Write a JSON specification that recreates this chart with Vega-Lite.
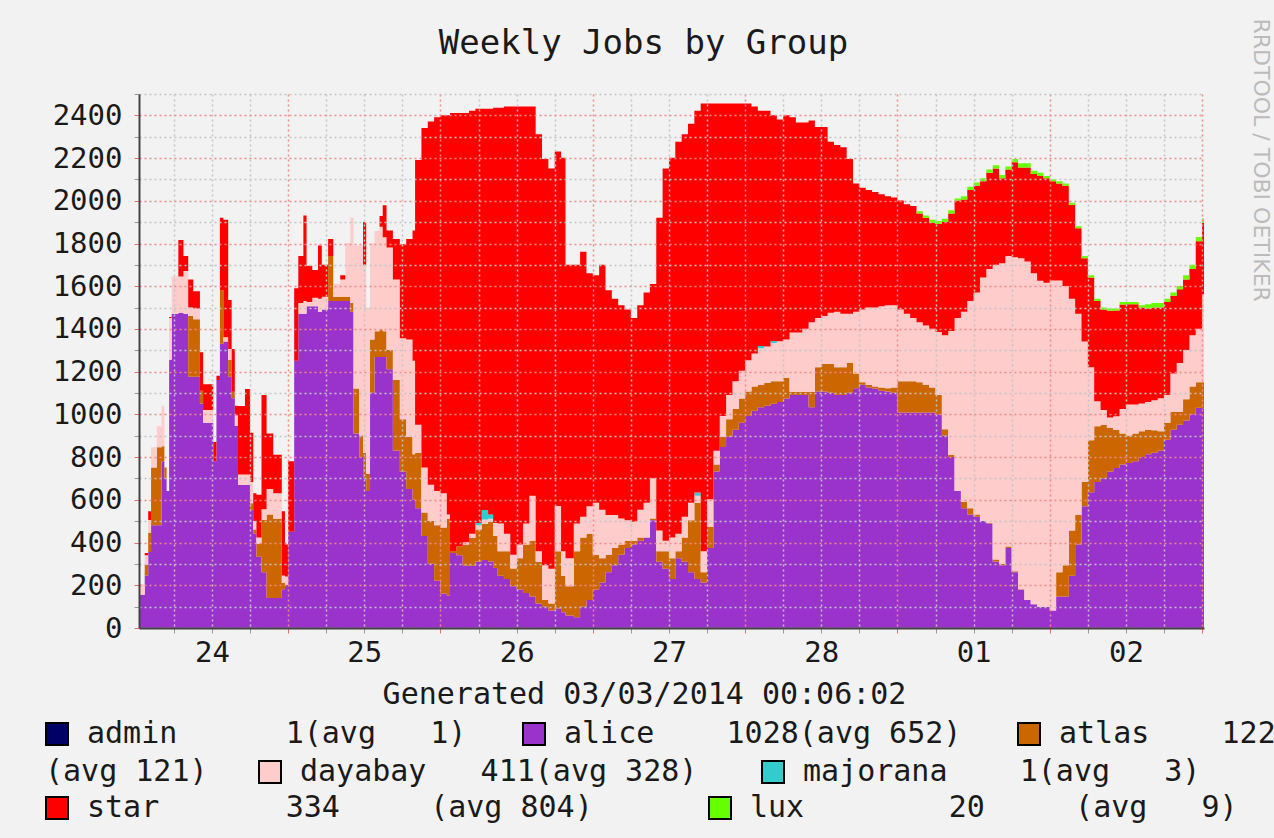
{
"$schema": "https://vega.github.io/schema/vega-lite/v6.json",
"width": 1065, "height": 534,
"autosize": {"type": "none"},
"padding": {"left": 139, "top": 94, "right": 70, "bottom": 210},
"background": "#f2f2f2",
"config": {"view": {"fill": "white", "stroke": null}, "font": "DejaVu Sans Mono"},
"title": {"text": "Weekly Jobs by Group", "font": "DejaVu Sans Mono", "fontSize": 34, "fontWeight": "normal", "color": "#1a1a1a", "anchor": "middle", "dx": -28, "offset": 0, "dy": 70, "baseline": "alphabetic"},
"layer": [
{
"data": {"values": [
{"hour":0.5,"admin":1,"alice":155,"atlas":0,"dayabay":50,"majorana":0,"star":0,"lux":0},
{"hour":1.4,"admin":1,"alice":245,"atlas":50,"dayabay":45,"majorana":0,"star":10,"lux":0},
{"hour":1.95,"admin":1,"alice":355,"atlas":90,"dayabay":60,"majorana":0,"star":40,"lux":0},
{"hour":2.4,"admin":1,"alice":480,"atlas":270,"dayabay":95,"majorana":0,"star":0,"lux":0},
{"hour":3.3,"admin":1,"alice":480,"atlas":365,"dayabay":98,"majorana":0,"star":0,"lux":0},
{"hour":4.05,"admin":1,"alice":780,"atlas":70,"dayabay":190,"majorana":0,"star":0,"lux":0},
{"hour":4.5,"admin":1,"alice":700,"atlas":50,"dayabay":0,"majorana":0,"star":0,"lux":0},
{"hour":4.85,"admin":1,"alice":640,"atlas":0,"dayabay":0,"majorana":0,"star":0,"lux":0},
{"hour":5.25,"admin":1,"alice":1255,"atlas":0,"dayabay":195,"majorana":0,"star":5,"lux":0},
{"hour":5.65,"admin":1,"alice":1470,"atlas":0,"dayabay":175,"majorana":0,"star":0,"lux":0},
{"hour":6.7,"admin":1,"alice":1475,"atlas":0,"dayabay":170,"majorana":0,"star":170,"lux":0},
{"hour":7.5,"admin":1,"alice":1470,"atlas":0,"dayabay":200,"majorana":0,"star":70,"lux":0},
{"hour":8.25,"admin":1,"alice":1175,"atlas":285,"dayabay":40,"majorana":0,"star":130,"lux":0},
{"hour":9.05,"admin":1,"alice":1175,"atlas":270,"dayabay":50,"majorana":0,"star":80,"lux":0},
{"hour":10.1,"admin":1,"alice":1050,"atlas":60,"dayabay":0,"majorana":0,"star":180,"lux":0},
{"hour":10.6,"admin":1,"alice":960,"atlas":0,"dayabay":60,"majorana":0,"star":120,"lux":0},
{"hour":12.2,"admin":1,"alice":780,"atlas":0,"dayabay":0,"majorana":0,"star":90,"lux":0},
{"hour":12.7,"admin":1,"alice":1160,"atlas":0,"dayabay":0,"majorana":0,"star":20,"lux":0},
{"hour":13.25,"admin":1,"alice":1330,"atlas":250,"dayabay":0,"majorana":0,"star":340,"lux":0},
{"hour":13.8,"admin":1,"alice":1340,"atlas":0,"dayabay":20,"majorana":0,"star":550,"lux":0},
{"hour":14.55,"admin":1,"alice":1175,"atlas":80,"dayabay":50,"majorana":0,"star":230,"lux":0},
{"hour":15.1,"admin":1,"alice":1075,"atlas":30,"dayabay":0,"majorana":0,"star":200,"lux":0},
{"hour":15.6,"admin":1,"alice":945,"atlas":0,"dayabay":50,"majorana":0,"star":45,"lux":0},
{"hour":16.1,"admin":1,"alice":668,"atlas":0,"dayabay":50,"majorana":0,"star":320,"lux":0},
{"hour":17.2,"admin":1,"alice":668,"atlas":0,"dayabay":50,"majorana":0,"star":400,"lux":0},
{"hour":18.0,"admin":1,"alice":553,"atlas":30,"dayabay":100,"majorana":0,"star":230,"lux":0},
{"hour":18.5,"admin":1,"alice":440,"atlas":20,"dayabay":40,"majorana":0,"star":130,"lux":0},
{"hour":19.0,"admin":1,"alice":333,"atlas":60,"dayabay":30,"majorana":0,"star":200,"lux":0},
{"hour":19.8,"admin":1,"alice":260,"atlas":245,"dayabay":50,"majorana":0,"star":535,"lux":0},
{"hour":20.6,"admin":1,"alice":140,"atlas":390,"dayabay":120,"majorana":0,"star":260,"lux":0},
{"hour":21.65,"admin":1,"alice":140,"atlas":370,"dayabay":120,"majorana":0,"star":180,"lux":0},
{"hour":23.0,"admin":1,"alice":180,"atlas":30,"dayabay":35,"majorana":0,"star":300,"lux":0},
{"hour":23.5,"admin":1,"alice":200,"atlas":0,"dayabay":40,"majorana":0,"star":150,"lux":0},
{"hour":24.0,"admin":1,"alice":450,"atlas":0,"dayabay":0,"majorana":0,"star":330,"lux":0},
{"hour":24.95,"admin":1,"alice":1250,"atlas":0,"dayabay":0,"majorana":0,"star":340,"lux":0},
{"hour":25.6,"admin":1,"alice":1470,"atlas":0,"dayabay":50,"majorana":0,"star":220,"lux":0},
{"hour":26.4,"admin":1,"alice":1470,"atlas":0,"dayabay":60,"majorana":0,"star":400,"lux":0},
{"hour":26.9,"admin":1,"alice":1505,"atlas":0,"dayabay":20,"majorana":0,"star":170,"lux":0},
{"hour":27.8,"admin":1,"alice":1505,"atlas":0,"dayabay":40,"majorana":0,"star":130,"lux":0},
{"hour":28.7,"admin":1,"alice":1480,"atlas":0,"dayabay":60,"majorana":0,"star":250,"lux":0},
{"hour":29.3,"admin":1,"alice":1490,"atlas":0,"dayabay":60,"majorana":0,"star":150,"lux":0},
{"hour":30.3,"admin":1,"alice":1530,"atlas":210,"dayabay":0,"majorana":0,"star":80,"lux":0},
{"hour":31.1,"admin":1,"alice":1530,"atlas":20,"dayabay":60,"majorana":0,"star":0,"lux":0},
{"hour":32.2,"admin":1,"alice":1530,"atlas":20,"dayabay":80,"majorana":0,"star":20,"lux":0},
{"hour":33.0,"admin":1,"alice":1530,"atlas":20,"dayabay":250,"majorana":0,"star":0,"lux":0},
{"hour":33.8,"admin":1,"alice":1480,"atlas":40,"dayabay":400,"majorana":0,"star":0,"lux":0},
{"hour":34.3,"admin":1,"alice":910,"atlas":210,"dayabay":670,"majorana":0,"star":0,"lux":0},
{"hour":35.2,"admin":1,"alice":800,"atlas":100,"dayabay":890,"majorana":0,"star":0,"lux":0},
{"hour":35.8,"admin":1,"alice":700,"atlas":120,"dayabay":880,"majorana":0,"star":200,"lux":0},
{"hour":36.3,"admin":1,"alice":640,"atlas":80,"dayabay":780,"majorana":0,"star":0,"lux":0},
{"hour":36.9,"admin":1,"alice":1100,"atlas":250,"dayabay":450,"majorana":0,"star":0,"lux":0},
{"hour":37.6,"admin":1,"alice":1268,"atlas":120,"dayabay":470,"majorana":0,"star":0,"lux":0},
{"hour":38.4,"admin":1,"alice":1268,"atlas":130,"dayabay":480,"majorana":0,"star":50,"lux":0},
{"hour":38.9,"admin":1,"alice":1268,"atlas":120,"dayabay":440,"majorana":0,"star":150,"lux":0},
{"hour":39.5,"admin":1,"alice":1210,"atlas":90,"dayabay":480,"majorana":0,"star":80,"lux":0},
{"hour":40.5,"admin":1,"alice":830,"atlas":330,"dayabay":470,"majorana":0,"star":190,"lux":0},
{"hour":41.6,"admin":1,"alice":732,"atlas":244,"dayabay":380,"majorana":0,"star":440,"lux":0},
{"hour":42.6,"admin":1,"alice":650,"atlas":244,"dayabay":456,"majorana":0,"star":470,"lux":0},
{"hour":43.6,"admin":1,"alice":600,"atlas":213,"dayabay":437,"majorana":0,"star":610,"lux":0},
{"hour":44,"admin":1,"alice":560,"atlas":260,"dayabay":130,"majorana":0,"star":1240,"lux":0},
{"hour":45,"admin":1,"alice":430,"atlas":110,"dayabay":210,"majorana":0,"star":1590,"lux":0},
{"hour":46,"admin":1,"alice":300,"atlas":200,"dayabay":170,"majorana":0,"star":1700,"lux":0},
{"hour":47,"admin":1,"alice":220,"atlas":260,"dayabay":160,"majorana":0,"star":1750,"lux":0},
{"hour":48,"admin":1,"alice":160,"atlas":310,"dayabay":160,"majorana":0,"star":1770,"lux":0},
{"hour":49,"admin":1,"alice":150,"atlas":360,"dayabay":20,"majorana":0,"star":1870,"lux":0},
{"hour":49.5,"admin":1,"alice":350,"atlas":10,"dayabay":0,"majorana":0,"star":2050,"lux":0},
{"hour":50.5,"admin":1,"alice":340,"atlas":40,"dayabay":0,"majorana":0,"star":2030,"lux":0},
{"hour":51.5,"admin":1,"alice":290,"atlas":100,"dayabay":10,"majorana":0,"star":2010,"lux":0},
{"hour":52.5,"admin":1,"alice":290,"atlas":130,"dayabay":20,"majorana":0,"star":1980,"lux":0},
{"hour":53.5,"admin":1,"alice":310,"atlas":150,"dayabay":20,"majorana":10,"star":1940,"lux":0},
{"hour":54.5,"admin":1,"alice":317,"atlas":170,"dayabay":20,"majorana":45,"star":1878,"lux":0},
{"hour":55.5,"admin":1,"alice":310,"atlas":185,"dayabay":15,"majorana":20,"star":1900,"lux":0},
{"hour":56.3,"admin":1,"alice":280,"atlas":150,"dayabay":60,"majorana":0,"star":1945,"lux":0},
{"hour":57,"admin":1,"alice":244,"atlas":114,"dayabay":130,"majorana":0,"star":1947,"lux":0},
{"hour":58,"admin":1,"alice":228,"atlas":130,"dayabay":82,"majorana":0,"star":2000,"lux":0},
{"hour":59,"admin":1,"alice":195,"atlas":82,"dayabay":65,"majorana":0,"star":2098,"lux":0},
{"hour":60,"admin":1,"alice":179,"atlas":146,"dayabay":65,"majorana":0,"star":2050,"lux":0},
{"hour":61,"admin":1,"alice":163,"atlas":227,"dayabay":98,"majorana":0,"star":1952,"lux":0},
{"hour":62,"admin":1,"alice":146,"atlas":261,"dayabay":211,"majorana":0,"star":1822,"lux":0},
{"hour":63,"admin":1,"alice":114,"atlas":195,"dayabay":49,"majorana":0,"star":1952,"lux":0},
{"hour":64,"admin":1,"alice":98,"atlas":32,"dayabay":163,"majorana":0,"star":1902,"lux":0},
{"hour":65,"admin":1,"alice":81,"atlas":33,"dayabay":162,"majorana":0,"star":1874,"lux":0},
{"hour":66,"admin":1,"alice":90,"atlas":268,"dayabay":212,"majorana":0,"star":1660,"lux":0},
{"hour":67,"admin":1,"alice":73,"atlas":171,"dayabay":114,"majorana":0,"star":1842,"lux":0},
{"hour":67.7,"admin":1,"alice":57,"atlas":138,"dayabay":130,"majorana":0,"star":1375,"lux":0},
{"hour":69,"admin":1,"alice":49,"atlas":309,"dayabay":130,"majorana":0,"star":1212,"lux":0},
{"hour":70,"admin":1,"alice":98,"atlas":325,"dayabay":97,"majorana":0,"star":1240,"lux":0},
{"hour":71,"admin":1,"alice":130,"atlas":310,"dayabay":129,"majorana":0,"star":1091,"lux":0},
{"hour":72,"admin":1,"alice":179,"atlas":163,"dayabay":243,"majorana":0,"star":1065,"lux":0},
{"hour":73,"admin":1,"alice":212,"atlas":113,"dayabay":228,"majorana":0,"star":1147,"lux":0},
{"hour":74,"admin":1,"alice":260,"atlas":82,"dayabay":186,"majorana":0,"star":1052,"lux":0},
{"hour":75,"admin":1,"alice":293,"atlas":81,"dayabay":154,"majorana":0,"star":1012,"lux":0},
{"hour":76,"admin":1,"alice":342,"atlas":48,"dayabay":122,"majorana":0,"star":998,"lux":0},
{"hour":77,"admin":1,"alice":374,"atlas":33,"dayabay":97,"majorana":0,"star":986,"lux":0},
{"hour":78,"admin":1,"alice":390,"atlas":17,"dayabay":89,"majorana":0,"star":954,"lux":0},
{"hour":79,"admin":1,"alice":407,"atlas":16,"dayabay":130,"majorana":0,"star":957,"lux":0},
{"hour":80,"admin":1,"alice":423,"atlas":0,"dayabay":162,"majorana":0,"star":985,"lux":0},
{"hour":81,"admin":1,"alice":504,"atlas":8,"dayabay":188,"majorana":0,"star":910,"lux":0},
{"hour":82,"admin":1,"alice":309,"atlas":49,"dayabay":97,"majorana":0,"star":1465,"lux":0},
{"hour":83,"admin":1,"alice":276,"atlas":82,"dayabay":49,"majorana":0,"star":1743,"lux":0},
{"hour":84,"admin":1,"alice":228,"atlas":97,"dayabay":98,"majorana":0,"star":1777,"lux":0},
{"hour":85,"admin":1,"alice":325,"atlas":33,"dayabay":82,"majorana":0,"star":1836,"lux":0},
{"hour":86,"admin":1,"alice":309,"atlas":114,"dayabay":97,"majorana":0,"star":1790,"lux":0},
{"hour":87,"admin":1,"alice":260,"atlas":244,"dayabay":81,"majorana":0,"star":1775,"lux":0},
{"hour":88,"admin":1,"alice":228,"atlas":357,"dayabay":33,"majorana":15,"star":1787,"lux":0},
{"hour":89,"admin":1,"alice":212,"atlas":48,"dayabay":98,"majorana":0,"star":2097,"lux":0},
{"hour":90,"admin":1,"alice":374,"atlas":98,"dayabay":130,"majorana":0,"star":1853,"lux":0},
{"hour":91,"admin":1,"alice":732,"atlas":32,"dayabay":65,"majorana":0,"star":1626,"lux":0},
{"hour":92,"admin":1,"alice":846,"atlas":48,"dayabay":98,"majorana":0,"star":1463,"lux":0},
{"hour":93,"admin":1,"alice":894,"atlas":82,"dayabay":114,"majorana":0,"star":1365,"lux":0},
{"hour":94,"admin":1,"alice":927,"atlas":97,"dayabay":130,"majorana":0,"star":1301,"lux":0},
{"hour":95,"admin":1,"alice":960,"atlas":113,"dayabay":130,"majorana":0,"star":1252,"lux":0},
{"hour":96,"admin":1,"alice":992,"atlas":114,"dayabay":146,"majorana":0,"star":1203,"lux":0},
{"hour":97,"admin":1,"alice":1016,"atlas":114,"dayabay":154,"majorana":0,"star":1156,"lux":0},
{"hour":98,"admin":1,"alice":1032,"atlas":106,"dayabay":171,"majorana":10,"star":1101,"lux":0},
{"hour":99,"admin":1,"alice":1040,"atlas":106,"dayabay":171,"majorana":0,"star":1103,"lux":0},
{"hour":100,"admin":1,"alice":1049,"atlas":105,"dayabay":179,"majorana":10,"star":1057,"lux":0},
{"hour":101,"admin":1,"alice":1057,"atlas":97,"dayabay":187,"majorana":0,"star":1039,"lux":0},
{"hour":102,"admin":1,"alice":1073,"atlas":97,"dayabay":180,"majorana":0,"star":1050,"lux":0},
{"hour":103,"admin":1,"alice":1090,"atlas":15,"dayabay":277,"majorana":0,"star":1008,"lux":0},
{"hour":104,"admin":1,"alice":1090,"atlas":15,"dayabay":277,"majorana":0,"star":983,"lux":0},
{"hour":105,"admin":1,"alice":1090,"atlas":15,"dayabay":295,"majorana":0,"star":965,"lux":0},
{"hour":106,"admin":1,"alice":1032,"atlas":73,"dayabay":325,"majorana":0,"star":945,"lux":0},
{"hour":107,"admin":1,"alice":1106,"atlas":114,"dayabay":230,"majorana":0,"star":895,"lux":0},
{"hour":108,"admin":1,"alice":1106,"atlas":130,"dayabay":224,"majorana":0,"star":885,"lux":0},
{"hour":109,"admin":1,"alice":1100,"atlas":136,"dayabay":239,"majorana":0,"star":801,"lux":0},
{"hour":110,"admin":1,"alice":1090,"atlas":130,"dayabay":260,"majorana":0,"star":780,"lux":0},
{"hour":111,"admin":1,"alice":1090,"atlas":130,"dayabay":250,"majorana":0,"star":780,"lux":0},
{"hour":112,"admin":1,"alice":1100,"atlas":140,"dayabay":230,"majorana":0,"star":725,"lux":0},
{"hour":113,"admin":1,"alice":1122,"atlas":68,"dayabay":290,"majorana":0,"star":600,"lux":0},
{"hour":114,"admin":1,"alice":1138,"atlas":12,"dayabay":340,"majorana":0,"star":570,"lux":0},
{"hour":115,"admin":1,"alice":1125,"atlas":13,"dayabay":362,"majorana":0,"star":550,"lux":0},
{"hour":116,"admin":1,"alice":1120,"atlas":10,"dayabay":370,"majorana":0,"star":540,"lux":0},
{"hour":117,"admin":1,"alice":1110,"atlas":15,"dayabay":380,"majorana":0,"star":525,"lux":0},
{"hour":118,"admin":1,"alice":1106,"atlas":16,"dayabay":388,"majorana":0,"star":510,"lux":0},
{"hour":119,"admin":1,"alice":1100,"atlas":25,"dayabay":385,"majorana":0,"star":505,"lux":0},
{"hour":120,"admin":1,"alice":1008,"atlas":146,"dayabay":336,"majorana":0,"star":510,"lux":0},
{"hour":121,"admin":1,"alice":1008,"atlas":146,"dayabay":316,"majorana":0,"star":513,"lux":0},
{"hour":122,"admin":1,"alice":1008,"atlas":146,"dayabay":296,"majorana":0,"star":525,"lux":0},
{"hour":123,"admin":1,"alice":1008,"atlas":142,"dayabay":280,"majorana":0,"star":510,"lux":10},
{"hour":124,"admin":1,"alice":1008,"atlas":130,"dayabay":277,"majorana":0,"star":505,"lux":10},
{"hour":125,"admin":1,"alice":1008,"atlas":117,"dayabay":275,"majorana":0,"star":495,"lux":15},
{"hour":126,"admin":1,"alice":1000,"atlas":90,"dayabay":295,"majorana":0,"star":505,"lux":15},
{"hour":127,"admin":1,"alice":900,"atlas":30,"dayabay":440,"majorana":0,"star":530,"lux":15},
{"hour":128,"admin":1,"alice":800,"atlas":10,"dayabay":580,"majorana":0,"star":550,"lux":15},
{"hour":129,"admin":1,"alice":640,"atlas":0,"dayabay":810,"majorana":0,"star":550,"lux":10},
{"hour":130,"admin":1,"alice":560,"atlas":30,"dayabay":890,"majorana":0,"star":525,"lux":15},
{"hour":131,"admin":1,"alice":530,"atlas":30,"dayabay":970,"majorana":0,"star":520,"lux":15},
{"hour":132,"admin":1,"alice":520,"atlas":10,"dayabay":1040,"majorana":0,"star":500,"lux":15},
{"hour":133,"admin":1,"alice":500,"atlas":0,"dayabay":1140,"majorana":0,"star":450,"lux":15},
{"hour":134,"admin":1,"alice":488,"atlas":2,"dayabay":1190,"majorana":0,"star":450,"lux":15},
{"hour":135,"admin":1,"alice":310,"atlas":10,"dayabay":1380,"majorana":0,"star":450,"lux":15},
{"hour":136,"admin":1,"alice":293,"atlas":7,"dayabay":1407,"majorana":0,"star":398,"lux":15},
{"hour":137,"admin":1,"alice":374,"atlas":6,"dayabay":1360,"majorana":0,"star":405,"lux":15},
{"hour":138,"admin":1,"alice":260,"atlas":5,"dayabay":1470,"majorana":0,"star":445,"lux":15},
{"hour":139,"admin":1,"alice":179,"atlas":1,"dayabay":1550,"majorana":0,"star":425,"lux":20},
{"hour":140,"admin":1,"alice":130,"atlas":0,"dayabay":1585,"majorana":0,"star":440,"lux":20},
{"hour":141,"admin":1,"alice":110,"atlas":0,"dayabay":1550,"majorana":0,"star":465,"lux":15},
{"hour":142,"admin":1,"alice":98,"atlas":0,"dayabay":1527,"majorana":0,"star":490,"lux":15},
{"hour":143,"admin":1,"alice":98,"atlas":0,"dayabay":1517,"majorana":0,"star":490,"lux":10},
{"hour":144,"admin":1,"alice":81,"atlas":0,"dayabay":1545,"majorana":0,"star":464,"lux":10},
{"hour":145,"admin":1,"alice":146,"atlas":114,"dayabay":1366,"majorana":0,"star":454,"lux":10},
{"hour":146,"admin":1,"alice":146,"atlas":147,"dayabay":1307,"majorana":0,"star":470,"lux":10},
{"hour":147,"admin":1,"alice":244,"atlas":211,"dayabay":1085,"majorana":0,"star":440,"lux":10},
{"hour":148,"admin":1,"alice":390,"atlas":138,"dayabay":942,"majorana":0,"star":400,"lux":10},
{"hour":149,"admin":1,"alice":569,"atlas":114,"dayabay":657,"majorana":0,"star":390,"lux":10},
{"hour":150,"admin":1,"alice":634,"atlas":244,"dayabay":342,"majorana":0,"star":420,"lux":10},
{"hour":151,"admin":1,"alice":683,"atlas":260,"dayabay":117,"majorana":0,"star":470,"lux":10},
{"hour":152,"admin":1,"alice":700,"atlas":251,"dayabay":69,"majorana":0,"star":470,"lux":10},
{"hour":153,"admin":1,"alice":732,"atlas":203,"dayabay":49,"majorana":0,"star":500,"lux":11},
{"hour":154,"admin":1,"alice":748,"atlas":179,"dayabay":63,"majorana":0,"star":495,"lux":10},
{"hour":155,"admin":1,"alice":764,"atlas":146,"dayabay":114,"majorana":0,"star":490,"lux":11},
{"hour":156,"admin":1,"alice":772,"atlas":128,"dayabay":145,"majorana":0,"star":470,"lux":10},
{"hour":157,"admin":1,"alice":780,"atlas":130,"dayabay":135,"majorana":0,"star":470,"lux":10},
{"hour":158,"admin":1,"alice":800,"atlas":120,"dayabay":130,"majorana":0,"star":450,"lux":10},
{"hour":159,"admin":1,"alice":813,"atlas":114,"dayabay":130,"majorana":0,"star":438,"lux":20},
{"hour":160,"admin":1,"alice":820,"atlas":105,"dayabay":140,"majorana":0,"star":435,"lux":20},
{"hour":161,"admin":1,"alice":829,"atlas":91,"dayabay":155,"majorana":0,"star":425,"lux":20},
{"hour":162,"admin":1,"alice":880,"atlas":80,"dayabay":130,"majorana":0,"star":435,"lux":15},
{"hour":163,"admin":1,"alice":927,"atlas":83,"dayabay":180,"majorana":0,"star":365,"lux":15},
{"hour":164,"admin":1,"alice":950,"atlas":60,"dayabay":230,"majorana":0,"star":345,"lux":15},
{"hour":165,"admin":1,"alice":970,"atlas":100,"dayabay":230,"majorana":0,"star":330,"lux":20},
{"hour":166,"admin":1,"alice":1000,"atlas":130,"dayabay":240,"majorana":0,"star":310,"lux":20},
{"hour":167,"admin":1,"alice":1030,"atlas":120,"dayabay":250,"majorana":0,"star":410,"lux":20},
{"hour":168,"admin":1,"alice":1028,"atlas":122,"dayabay":411,"majorana":1,"star":334,"lux":20},
{"hour":168.3,"admin":1,"alice":1028,"atlas":122,"dayabay":411,"majorana":1,"star":334,"lux":20}
]},
"transform": [
 {"fold": ["admin","alice","atlas","dayabay","majorana","star","lux"], "as": ["group","jobs"]},
 {"lookup": "group", "from": {"data": {"values": [
   {"group":"admin","rank":1},{"group":"alice","rank":2},{"group":"atlas","rank":3},{"group":"dayabay","rank":4},
   {"group":"majorana","rank":5},{"group":"star","rank":6},{"group":"lux","rank":7}]}, "key": "group", "fields": ["rank"]}}
],
"mark": {"type": "area", "interpolate": "step-after", "opacity": 1},
"encoding": {
"x": {"field": "hour", "type": "quantitative", "scale": {"domain": [0.5,168.3], "nice": false, "zero": false},
 "axis": {"values": [6,12,18,24,30,36,42,48,54,60,66,72,78,84,90,96,102,108,114,120,126,132,138,144,150,156,162,168],
  "labelExpr": "datum.value % 24 === 12 ? ['24','25','26','27','28','01','02'][floor(datum.value/24)] : ''",
  "grid": true,
  "gridColor": {"condition": {"test": "datum.value % 24 === 0", "value": "#f08a8a"}, "value": "#c4c4c4"},
  "gridDash": [2,3], "gridWidth": 1.5,
  "tickSize": 5, "tickColor": {"condition": {"test": "datum.value % 24 === 0", "value": "#e07070"}, "value": "#999999"},
  "domainColor": "#444444", "domainWidth": 2,
  "labelFont": "DejaVu Sans Mono", "labelFontSize": 29, "labelColor": "#1a1a1a", "labelPadding": 5, "labelFlush": false, "labelOverlap": false,
  "title": "Generated 03/03/2014 00:06:02", "titleFont": "DejaVu Sans Mono", "titleFontSize": 30, "titleFontWeight": "normal", "titleColor": "#1a1a1a", "titlePadding": 12, "titleX": 505,
  "zindex": 1}},
"y": {"field": "jobs", "type": "quantitative", "stack": "zero", "scale": {"domain": [0,2500], "nice": false},
 "axis": {"values": [0,100,200,300,400,500,600,700,800,900,1000,1100,1200,1300,1400,1500,1600,1700,1800,1900,2000,2100,2200,2300,2400,2500],
  "format": "d",
  "labelExpr": "datum.value % 200 === 0 ? datum.label : ''",
  "grid": true,
  "gridColor": {"condition": {"test": "datum.value % 200 === 0", "value": "#f08a8a"}, "value": "#c4c4c4"},
  "gridDash": [2,3], "gridWidth": 1.5,
  "tickSize": 5, "tickColor": {"condition": {"test": "datum.value % 200 === 0", "value": "#e07070"}, "value": "#999999"},
  "domainColor": "#444444", "domainWidth": 2,
  "labelFont": "DejaVu Sans Mono", "labelFontSize": 29, "labelColor": "#1a1a1a", "labelPadding": 12, "labelOverlap": false,
  "title": null, "zindex": 1}},
"order": {"field": "rank", "type": "quantitative", "sort": "ascending"},
"color": {"field": "group", "type": "nominal",
 "scale": {"domain": ["admin","alice","atlas","dayabay","majorana","star","lux"], "range": ["#000066","#9933cc","#cc6600","#ffcccc","#33cccc","#ff0000","#66ff00"]},
 "legend": {"orient": "none", "legendX": -97, "legendY": 625, "columns": 3, "direction": "horizontal", "values": ["admin","alice","atlas"],
  "columnPadding": 52, "padding": 0, "title": null,
  "symbolType": "square", "symbolSize": 484, "symbolStrokeColor": "black", "symbolStrokeWidth": 2, "symbolOpacity": 1,
  "labelFont": "DejaVu Sans Mono", "labelFontSize": 30, "labelColor": "#1a1a1a", "labelOffset": 15, "labelLimit": 800,
  "labelExpr": "datum.label === 'admin' ? 'admin\u00a0\u00a0\u00a0\u00a0\u00a0\u00a01(avg\u00a0\u00a0\u00a01)' : datum.label === 'alice' ? 'alice\u00a0\u00a0\u00a0\u00a01028(avg\u00a0652)\u00a0' : 'atlas\u00a0\u00a0\u00a0\u00a0122(avg\u00a0121)'"}}
}
},
{
"data": {"values": [{"group": "dayabay"}, {"group": "majorana"}]},
"mark": {"type": "point", "filled": true, "opacity": 0},
"encoding": {
"color": {"field": "group", "type": "nominal",
 "scale": {"domain": ["dayabay","majorana"], "range": ["#ffcccc","#33cccc"]},
 "legend": {"orient": "none", "legendX": -94, "legendY": 663, "columns": 2, "direction": "horizontal",
  "columnPadding": 60, "padding": 0, "title": "(avg\u00a0121)", "titleOrient": "left", "titlePadding": 47, "titleBaseline": "middle",
  "titleFont": "DejaVu Sans Mono", "titleFontSize": 30, "titleFontWeight": "normal", "titleColor": "#1a1a1a",
  "symbolType": "square", "symbolSize": 484, "symbolStrokeColor": "black", "symbolStrokeWidth": 2, "symbolOpacity": 1,
  "labelFont": "DejaVu Sans Mono", "labelFontSize": 30, "labelColor": "#1a1a1a", "labelOffset": 15, "labelLimit": 800,
  "labelExpr": "datum.label === 'dayabay' ? 'dayabay\u00a0\u00a0\u00a0411(avg\u00a0328)' : 'majorana\u00a0\u00a0\u00a0\u00a01(avg\u00a0\u00a0\u00a03)'"}}
}
},
{
"data": {"values": [{"group": "star"}, {"group": "lux"}]},
"mark": {"type": "point", "filled": true, "opacity": 0},
"encoding": {
"color": {"field": "group", "type": "nominal",
 "scale": {"domain": ["star","lux"], "range": ["#ff0000","#66ff00"]},
 "legend": {"orient": "none", "legendX": -97, "legendY": 699, "columns": 2, "direction": "horizontal",
  "columnPadding": 112, "padding": 0, "title": null,
  "symbolType": "square", "symbolSize": 484, "symbolStrokeColor": "black", "symbolStrokeWidth": 2, "symbolOpacity": 1,
  "labelFont": "DejaVu Sans Mono", "labelFontSize": 30, "labelColor": "#1a1a1a", "labelOffset": 15, "labelLimit": 800,
  "labelExpr": "datum.label === 'star' ? 'star\u00a0\u00a0\u00a0\u00a0\u00a0\u00a0\u00a0334\u00a0\u00a0\u00a0\u00a0\u00a0(avg\u00a0804)' : 'lux\u00a0\u00a0\u00a0\u00a0\u00a0\u00a0\u00a0\u00a020\u00a0\u00a0\u00a0\u00a0\u00a0(avg\u00a0\u00a0\u00a09)'"}}
}
},
{
"data": {"values": [{}]},
"mark": {"type": "rule", "opacity": 0},
"encoding": {"y": {"datum": 0, "axis": {"orient": "right", "labels": false, "ticks": false, "domain": false, "grid": false,
 "title": "RRDTOOL / TOBI OETIKER", "titleAngle": 90, "titleFont": "DejaVu Sans", "titleFontSize": 22, "titleFontWeight": "normal", "titleColor": "#bbbbbb",
 "titleX": 56, "titleY": -76, "titleAlign": "left", "titleBaseline": "middle"}}}
}
],
"resolve": {"axis": {"y": "independent"}, "scale": {"color": "independent"}, "legend": {"color": "independent"}}
}
